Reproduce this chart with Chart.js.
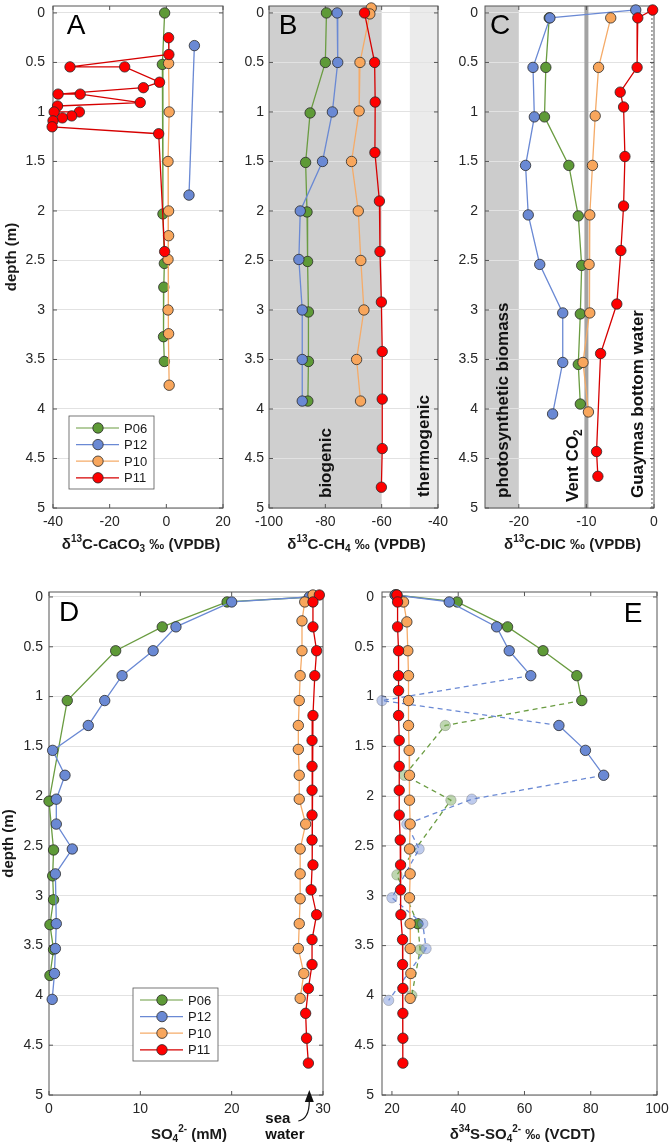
<!DOCTYPE html>
<html>
<head>
<meta charset="utf-8">
<script src="https://cdn.jsdelivr.net/npm/chart.js@4.4.1/dist/chart.umd.min.js"></script>
<style>
    body { margin: 0; background: #fff; }
    #wrap { position: relative; width: 671px; height: 1148px; }
    canvas { position: absolute; }
</style>
</head>
<body>
<div id="wrap">
    <canvas id="chartA" width="235" height="560" style="left:0;top:0"></canvas>
    <canvas id="chartB" width="217" height="560" style="left:235px;top:0"></canvas>
    <canvas id="chartC" width="219" height="560" style="left:452px;top:0"></canvas>
    <canvas id="chartD" width="340" height="588" style="left:0;top:560px"></canvas>
    <canvas id="chartE" width="331" height="588" style="left:340px;top:560px"></canvas>
</div>
<script>
// ---- data (depth in m) ----
const depthTicks = [0, 0.5, 1, 1.5, 2, 2.5, 3, 3.5, 4, 4.5, 5];
const xTicksA = [-40, -20, 0, 20];
const xTicksB = [-100, -80, -60, -40];
const xTicksC = [-20, -10, 0];
const xTicksD = [0, 10, 20, 30];
const xTicksE = [20, 40, 60, 80, 100];
const seriesNames = ['P06', 'P12', 'P10', 'P11'];

// A: d13C-CaCO3
const aP06Depth = [0, 0.52, 2.03, 2.53, 2.77, 3.27, 3.52];
const aP06Val = [-0.6, -1.4, -1.2, -0.7, -0.9, -1.0, -0.7];
const aP12Depth = [0.33, 1.84];
const aP12Val = [9.9, 8.0];
const aP10Depth = [0.51, 1.0, 1.5, 2.0, 2.25, 2.49, 3.0, 3.24, 3.76];
const aP10Val = [0.8, 1.0, 0.6, 0.8, 0.8, 0.6, 0.6, 0.8, 1.0];
const aP11Depth = [0.25, 0.42, 0.545, 0.545, 0.70, 0.755, 0.82, 0.82, 0.905, 0.94, 1.0, 1.0, 1.04, 1.06, 1.09, 1.15, 1.22, 2.41];
const aP11Val = [0.8, 0.9, -34.0, -14.7, -2.4, -8.1, -38.2, -30.4, -9.2, -38.4, -39.6, -30.7, -33.4, -36.7, -40.0, -40.3, -2.7, -0.6];

// B: d13C-CH4
const bP06Depth = [0, 0.5, 1.01, 1.51, 2.01, 2.51, 3.02, 3.52, 3.92];
const bP06Val = [-79.6, -80.0, -85.4, -87.0, -86.5, -86.3, -86.0, -86.0, -86.2];
const bP12Depth = [0, 0.5, 1.0, 1.5, 2.0, 2.49, 3.0, 3.5, 3.92];
const bP12Val = [-75.8, -75.6, -77.5, -81.0, -88.9, -89.4, -88.2, -88.2, -88.2];
const bP10Depth = [-0.05, 0.01, 0.5, 0.99, 1.5, 2.0, 2.5, 3.0, 3.5, 3.92];
const bP10Val = [-63.7, -64.2, -67.7, -68.0, -70.7, -68.3, -67.4, -66.3, -68.9, -67.5];
const bP11Depth = [0, 0.5, 0.9, 1.41, 1.9, 2.41, 2.92, 3.42, 3.9, 4.4, 4.79];
const bP11Val = [-66.1, -62.5, -62.3, -62.4, -60.8, -60.6, -60.1, -59.8, -59.8, -59.8, -60.1];

// C: d13C-DIC
const cP06Depth = [0.05, 0.55, 1.05, 1.54, 2.05, 2.55, 3.04, 3.55, 3.95];
const cP06Val = [-15.5, -16.0, -16.2, -12.6, -11.2, -10.7, -10.9, -11.2, -10.9];
const cP12Depth = [-0.03, 0.05, 0.55, 1.05, 1.54, 2.04, 2.54, 3.03, 3.53, 4.05];
const cP12Val = [-2.7, -15.4, -17.9, -17.7, -19.0, -18.6, -16.9, -13.5, -13.5, -15.0];
const cP10Depth = [0.05, 0.55, 1.04, 1.54, 2.04, 2.54, 3.03, 3.53, 4.03];
const cP10Val = [-6.4, -8.2, -8.7, -9.1, -9.5, -9.6, -9.5, -10.5, -9.7];
const cP11Depth = [-0.03, 0.05, 0.55, 0.8, 0.95, 1.45, 1.95, 2.4, 2.94, 3.44, 4.43, 4.68];
const cP11Val = [-0.2, -2.4, -2.5, -5.0, -4.5, -4.3, -4.5, -4.9, -5.5, -7.9, -8.5, -8.3];

// D: SO4 (mM)
const dP06Depth = [0, 0.05, 0.3, 0.54, 1.04, 2.05, 2.54, 2.8, 3.04, 3.29, 3.54, 3.8];
const dP06Val = [28.7, 19.5, 12.4, 7.3, 2.0, 0.0, 0.5, 0.4, 0.5, 0.1, 0.5, 0.1];
const dP12Depth = [0, 0.05, 0.3, 0.54, 0.79, 1.04, 1.29, 1.54, 1.79, 2.03, 2.28, 2.53, 2.78, 3.28, 3.53, 3.78, 4.04];
const dP12Val = [28.5, 20.0, 13.9, 11.4, 8.0, 6.1, 4.3, 0.4, 1.75, 0.8, 0.8, 2.55, 0.7, 0.8, 0.7, 0.6, 0.35];
const dP10Depth = [-0.02, 0.05, 0.24, 0.54, 0.79, 1.04, 1.29, 1.53, 1.79, 2.03, 2.28, 2.53, 2.78, 3.03, 3.28, 3.53, 3.78, 4.03];
const dP10Val = [28.9, 28.0, 27.7, 27.7, 27.5, 27.4, 27.3, 27.3, 27.4, 27.4, 28.1, 27.5, 27.5, 27.5, 27.4, 27.3, 27.9, 27.5];
const dP11Depth = [-0.02, 0.05, 0.3, 0.54, 0.79, 1.19, 1.44, 1.70, 1.94, 2.19, 2.44, 2.69, 2.94, 3.19, 3.44, 3.69, 3.93, 4.18, 4.43, 4.68];
const dP11Val = [29.6, 28.9, 28.9, 29.3, 29.1, 28.9, 28.8, 28.8, 28.8, 28.8, 28.8, 28.9, 28.7, 29.3, 28.8, 28.8, 28.4, 28.1, 28.2, 28.4];

// E: d34S-SO4 (1 = doubtful value, drawn faded with dashed link)
const eP06Depth = [-0.02, 0.05, 0.3, 0.54, 0.79, 1.04, 1.29, 1.79, 2.04, 2.79, 3.28, 3.54, 4.0];
const eP06Val = [21.0, 39.7, 54.9, 65.6, 75.8, 77.3, 36.1, 23.8, 37.8, 21.5, 27.8, 28.5, 26.0];
const eP06Faded = [0, 0, 0, 0, 0, 0, 1, 1, 1, 1, 0, 1, 1];
const eP12Depth = [-0.02, 0.05, 0.3, 0.54, 0.79, 1.04, 1.29, 1.54, 1.79, 2.03, 2.28, 2.53, 3.02, 3.28, 3.53, 4.05];
const eP12Val = [21.0, 37.3, 51.6, 55.4, 61.9, 17.0, 70.4, 78.4, 83.9, 44.1, 24.5, 28.2, 20.0, 29.3, 30.3, 19.0];
const eP12Faded = [0, 0, 0, 0, 0, 1, 0, 0, 0, 1, 1, 1, 1, 1, 1, 1];
const eP10Depth = [-0.02, 0.05, 0.25, 0.54, 0.79, 1.04, 1.29, 1.54, 1.79, 2.04, 2.28, 2.53, 2.78, 3.02, 3.28, 3.53, 3.78, 4.03];
const eP10Val = [21.5, 23.5, 24.5, 24.8, 25.0, 25.0, 25.0, 25.2, 25.3, 25.3, 25.5, 25.3, 25.5, 25.3, 25.5, 25.5, 25.7, 25.5];
const eP11Depth = [-0.02, 0.05, 0.3, 0.54, 0.79, 0.94, 1.19, 1.44, 1.70, 1.94, 2.19, 2.44, 2.69, 2.94, 3.19, 3.44, 3.69, 3.93, 4.18, 4.43, 4.68];
const eP11Val = [21.5, 21.7, 21.7, 22.0, 22.0, 22.0, 22.0, 22.2, 22.2, 22.2, 22.2, 22.5, 22.6, 22.6, 22.7, 23.2, 23.2, 23.3, 23.3, 23.3, 23.3];

// axis titles as [text, 'sup'|'sub'|'']
const titleA = [['δ', ''], ['13', 'sup'], ['C-CaCO', ''], ['3', 'sub'], [' ‰ (VPDB)', '']];
const titleB = [['δ', ''], ['13', 'sup'], ['C-CH', ''], ['4', 'sub'], [' ‰ (VPDB)', '']];
const titleC = [['δ', ''], ['13', 'sup'], ['C-DIC ‰ (VPDB)', '']];
const titleD = [['SO', ''], ['4', 'sub'], ['2-', 'sup'], [' (mM)', '']];
const titleE = [['δ', ''], ['34', 'sup'], ['S-SO', ''], ['4', 'sub'], ['2-', 'sup'], [' ‰ (VCDT)', '']];

const FONT = '"Liberation Sans", Arial, Helvetica, sans-serif';

const seriesStyle = {
    P06: { fill: '#5e9a37', line: '#6a9c41', faded: 'rgba(110,165,80,0.45)', order: 4 },
    P12: { fill: '#6a89d4', line: '#6a89d4', faded: 'rgba(110,140,215,0.45)', order: 3 },
    P10: { fill: '#f8a65c', line: '#f5ab68', faded: 'rgba(248,166,92,0.45)', order: 2 },
    P11: { fill: '#ff0000', line: '#d60000', faded: 'rgba(255,0,0,0.45)', order: 1 }
};

let charts = {};

// extra drawing per panel (bands, labels, legend...)
const decor = {
    chartA: { letter: 'A', letterAt: [23, 20], title: titleA, titleDy: 37, legend: [16, 410] },
    chartB: {
        letter: 'B', letterAt: [19, 20], title: titleB, titleDy: 37,
        bands: [[-100, -60, '#cfcfcf'], [-50, -40, '#ebebeb']],
        labels: [[[['biogenic', '']], -79.5, 10], [[['thermogenic', '']], -45, 11]]
    },
    chartC: {
        letter: 'C', letterAt: [15, 20], title: titleC, titleDy: 37,
        bands: [[-25, -20, '#cccccc']],
        vlines: [[-10, '#a3a3a3', 4, null], [-0.3, '#333', 0.8, [2, 2]]],
        labels: [[[['photosynthetic biomass', '']], -22.3, 10], [[['Vent CO', ''], ['2', 'sub']], -11.9, 6], [[['Guaymas bottom water', '']], -2.3, 10]]
    },
    chartD: { letter: 'D', letterAt: [20, 21], title: titleD, titleDy: 40, legend: [84, 396], seaWater: 28.5 },
    chartE: { letter: 'E', letterAt: [-24, 22], letterRight: true, title: titleE, titleDy: 40 }
};

function drawRich(ctx, parts, x, y, align, size) {
    const big = 'bold ' + size + 'px ' + FONT;
    const small = 'bold ' + Math.round(size * 0.68) + 'px ' + FONT;
    let total = 0;
    parts.forEach(p => { ctx.font = p[1] ? small : big; total += ctx.measureText(p[0]).width; });
    let cx = align === 'center' ? x - total / 2 : x;
    ctx.textAlign = 'left';
    ctx.textBaseline = 'middle';
    parts.forEach(p => {
        ctx.font = p[1] ? small : big;
        const dy = p[1] === 'sup' ? -size * 0.36 : (p[1] === 'sub' ? size * 0.3 : 0);
        ctx.fillText(p[0], cx, y + dy);
        cx += ctx.measureText(p[0]).width;
    });
}

const panelDecor = {
    id: 'panelDecor',
    beforeDraw(chart) {
        const d = decor[chart.canvas.id];
        const { ctx, chartArea: a } = chart;
        const xs = chart.scales.x;
        (d.bands || []).forEach(b => {
            const x0 = xs.getPixelForValue(b[0]);
            const x1 = xs.getPixelForValue(b[1]);
            ctx.fillStyle = b[2];
            ctx.fillRect(x0, a.top, x1 - x0, a.bottom - a.top);
        });
    },
    beforeDatasetsDraw(chart) {
        const d = decor[chart.canvas.id];
        const { ctx, chartArea: a } = chart;
        const xs = chart.scales.x, ys = chart.scales.y;
        ctx.save();
        (d.vlines || []).forEach(l => {
            const x = xs.getPixelForValue(l[0]);
            ctx.strokeStyle = l[1];
            ctx.lineWidth = l[2];
            ctx.setLineDash(l[3] || []);
            ctx.beginPath();
            ctx.moveTo(x, a.top);
            ctx.lineTo(x, a.bottom);
            ctx.stroke();
        });
        ctx.setLineDash([]);
        ctx.fillStyle = '#111';
        (d.labels || []).forEach(t => {
            ctx.save();
            ctx.translate(xs.getPixelForValue(t[1]), a.bottom - t[2]);
            ctx.rotate(-Math.PI / 2);
            drawRich(ctx, t[0], 0, 0, 'left', 17);
            ctx.restore();
        });
        // box and inward ticks
        ctx.strokeStyle = '#555';
        ctx.lineWidth = 1;
        ctx.strokeRect(a.left, a.top, a.right - a.left, a.bottom - a.top);
        ctx.beginPath();
        ys.ticks.forEach(t => {
            const y = ys.getPixelForValue(t.value);
            ctx.moveTo(a.left, y); ctx.lineTo(a.left + 4, y);
            ctx.moveTo(a.right, y); ctx.lineTo(a.right - 4, y);
        });
        xs.ticks.forEach(t => {
            const x = xs.getPixelForValue(t.value);
            ctx.moveTo(x, a.bottom); ctx.lineTo(x, a.bottom - 4);
            ctx.moveTo(x, a.top); ctx.lineTo(x, a.top + 4);
        });
        ctx.stroke();
        ctx.restore();
    },
    afterDraw(chart) {
        const d = decor[chart.canvas.id];
        const { ctx, chartArea: a } = chart;
        const xs = chart.scales.x;
        ctx.save();
        // panel letter
        ctx.fillStyle = '#000';
        ctx.font = '28px ' + FONT;
        ctx.textAlign = 'center';
        ctx.textBaseline = 'middle';
        const lx = d.letterRight ? a.right + d.letterAt[0] : a.left + d.letterAt[0];
        ctx.fillText(d.letter, lx, a.top + d.letterAt[1]);
        // x title
        ctx.fillStyle = '#1a1a1a';
        drawRich(ctx, d.title, (a.left + a.right) / 2 + 3, a.bottom + d.titleDy, 'center', 15);
        // legend
        if (d.legend) {
            const bx = a.left + d.legend[0], by = a.top + d.legend[1];
            ctx.fillStyle = '#fff';
            ctx.fillRect(bx, by, 85, 73);
            ctx.strokeStyle = '#555';
            ctx.lineWidth = 0.8;
            ctx.strokeRect(bx, by, 85, 73);
            seriesNames.forEach((name, i) => {
                const st = seriesStyle[name];
                const y = by + 12 + i * 16.6;
                ctx.strokeStyle = st.line;
                ctx.lineWidth = 1.2;
                ctx.beginPath();
                ctx.moveTo(bx + 7, y); ctx.lineTo(bx + 50, y);
                ctx.stroke();
                ctx.beginPath();
                ctx.arc(bx + 29, y, 5.2, 0, Math.PI * 2);
                ctx.fillStyle = st.fill;
                ctx.fill();
                ctx.strokeStyle = '#2a2a2a';
                ctx.lineWidth = 0.8;
                ctx.stroke();
                ctx.fillStyle = '#1a1a1a';
                ctx.font = '13px ' + FONT;
                ctx.textAlign = 'left';
                ctx.textBaseline = 'middle';
                ctx.fillText(name, bx + 55, y + 1);
            });
        }
        // sea water arrow
        if (d.seaWater) {
            const x0 = xs.getPixelForValue(d.seaWater);
            const b = a.bottom;
            ctx.fillStyle = '#111';
            ctx.font = 'bold 15px ' + FONT;
            ctx.textAlign = 'left';
            ctx.textBaseline = 'middle';
            ctx.fillText('sea', x0 - 44, b + 24);
            ctx.fillText('water', x0 - 44, b + 40);
            ctx.strokeStyle = '#111';
            ctx.lineWidth = 1.2;
            ctx.beginPath();
            ctx.moveTo(x0 - 11, b + 26);
            ctx.quadraticCurveTo(x0, b + 24, x0, b + 6);
            ctx.stroke();
            ctx.beginPath();
            ctx.moveTo(x0, b - 5);
            ctx.lineTo(x0 - 4.5, b + 7);
            ctx.lineTo(x0 + 4.5, b + 7);
            ctx.closePath();
            ctx.fill();
        }
        ctx.restore();
    }
};

function makeDataset(name, depths, values, faded) {
    const st = seriesStyle[name];
    const ds = {
        label: name,
        data: depths.map((dep, i) => ({ x: values[i], y: dep })),
        borderColor: st.line,
        borderWidth: 1.3,
        pointRadius: 5.2,
        pointBorderWidth: 0.8,
        pointBackgroundColor: faded ? faded.map(f => f ? st.faded : st.fill) : st.fill,
        pointBorderColor: faded ? faded.map(f => f ? 'rgba(40,40,40,0.3)' : '#2a2a2a') : '#2a2a2a',
        order: st.order,
        clip: false,
        tension: 0,
        fill: false
    };
    if (faded) {
        ds.segment = {
            borderDash: ctx => (faded[ctx.p0DataIndex] || faded[ctx.p1DataIndex]) ? [5, 4] : undefined
        };
    }
    return ds;
}

function createChart(canvasId, datasets, p) {
    const canvas = document.getElementById(canvasId);
    if (!canvas) return;
    if (charts[canvasId]) {
        charts[canvasId].destroy();
    }
    const tickFont = { family: FONT, size: 14 };
    charts[canvasId] = new Chart(canvas.getContext('2d'), {
        type: 'line',
        data: { datasets: datasets },
        options: {
            responsive: false,
            animation: false,
            events: [],
            layout: { padding: { top: p.top, right: p.right, left: 0, bottom: 0 } },
            plugins: {
                legend: { display: false },
                tooltip: { enabled: false }
            },
            scales: {
                x: {
                    type: 'linear',
                    min: p.xMin,
                    max: p.xMax,
                    afterBuildTicks: s => { s.ticks = p.xTicks.map(v => ({ value: v })); },
                    afterFit: s => { s.height = p.xHeight; s.paddingLeft = 0; s.paddingRight = 0; },
                    grid: { display: false, drawTicks: false },
                    border: { display: false },
                    ticks: { padding: 6, color: '#262626', font: tickFont, maxRotation: 0, autoSkip: false, callback: v => String(v) }
                },
                y: {
                    type: 'linear',
                    reverse: true,
                    min: p.yMin,
                    max: 5,
                    afterBuildTicks: s => { s.ticks = depthTicks.map(v => ({ value: v })); },
                    afterFit: s => { s.width = p.yWidth; s.paddingTop = 0; s.paddingBottom = 0; },
                    grid: { color: '#e2e2e2', lineWidth: 1, drawTicks: false },
                    border: { display: false },
                    ticks: { padding: p.yPad, color: '#262626', font: tickFont, autoSkip: false, callback: v => String(v) },
                    title: {
                        display: p.yTitle,
                        text: 'depth (m)',
                        color: '#1a1a1a',
                        font: { family: FONT, size: 15, weight: 'bold' },
                        padding: { top: p.yTitlePad || 0, bottom: 0 }
                    }
                }
            }
        },
        plugins: [panelDecor]
    });
}

document.addEventListener('DOMContentLoaded', function() {
    createChart('chartA', [
        makeDataset('P06', aP06Depth, aP06Val),
        makeDataset('P12', aP12Depth, aP12Val),
        makeDataset('P10', aP10Depth, aP10Val),
        makeDataset('P11', aP11Depth, aP11Val)
    ], { xMin: -40, xMax: 20, xTicks: xTicksA, yMin: -0.07, top: 5, right: 12, yWidth: 53, xHeight: 52, yPad: 8, yTitle: true, yTitlePad: 3 });

    createChart('chartB', [
        makeDataset('P06', bP06Depth, bP06Val),
        makeDataset('P12', bP12Depth, bP12Val),
        makeDataset('P10', bP10Depth, bP10Val),
        makeDataset('P11', bP11Depth, bP11Val)
    ], { xMin: -100, xMax: -40, xTicks: xTicksB, yMin: -0.07, top: 5, right: 14, yWidth: 34, xHeight: 52, yPad: 5, yTitle: false });

    createChart('chartC', [
        makeDataset('P06', cP06Depth, cP06Val),
        makeDataset('P12', cP12Depth, cP12Val),
        makeDataset('P10', cP10Depth, cP10Val),
        makeDataset('P11', cP11Depth, cP11Val)
    ], { xMin: -25, xMax: 0, xTicks: xTicksC, yMin: -0.07, top: 5, right: 17, yWidth: 33, xHeight: 52, yPad: 7, yTitle: false });

    createChart('chartD', [
        makeDataset('P06', dP06Depth, dP06Val),
        makeDataset('P12', dP12Depth, dP12Val),
        makeDataset('P10', dP10Depth, dP10Val),
        makeDataset('P11', dP11Depth, dP11Val)
    ], { xMin: 0, xMax: 30, xTicks: xTicksD, yMin: -0.05, top: 32, right: 17, yWidth: 49, xHeight: 53, yPad: 6, yTitle: true, yTitlePad: 0 });

    createChart('chartE', [
        makeDataset('P06', eP06Depth, eP06Val, eP06Faded),
        makeDataset('P12', eP12Depth, eP12Val, eP12Faded),
        makeDataset('P10', eP10Depth, eP10Val),
        makeDataset('P11', eP11Depth, eP11Val)
    ], { xMin: 17, xMax: 100, xTicks: xTicksE, yMin: -0.05, top: 32, right: 14, yWidth: 42, xHeight: 53, yPad: 8, yTitle: false });
});
</script>
</body>
</html>
